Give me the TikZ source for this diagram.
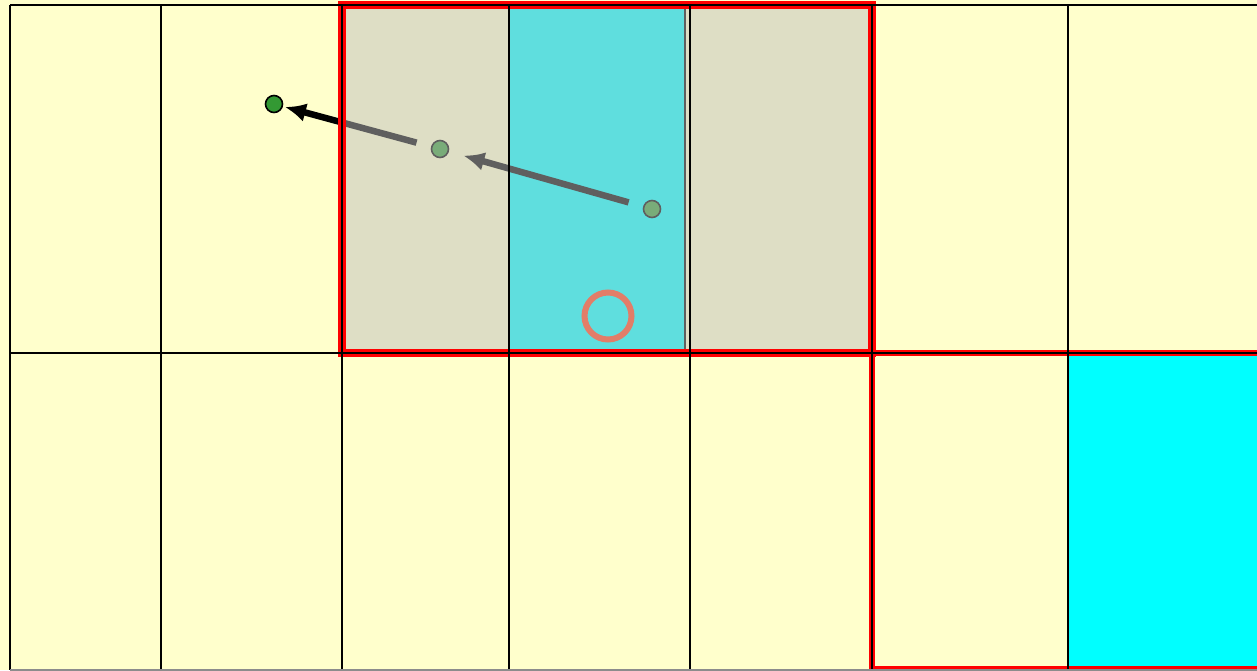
\documentclass[tikz,border=0pt]{standalone}
\usetikzlibrary{arrows.meta}
\definecolor{bgyellow}{HTML}{FFFFCC}
\definecolor{veil}{HTML}{BFBFBF}
\definecolor{dotgreen}{HTML}{339933}
\definecolor{ringcol}{HTML}{E27D68}
\definecolor{cellcyan}{HTML}{00FFFF}
\begin{document}
\begin{tikzpicture}[x=1pt,y=-1pt,
  gridline/.style={black,line width=2pt},
  dot/.style={circle,draw=black,fill=dotgreen,line width=1.6pt,minimum size=17pt,inner sep=0pt},
  move/.style={black,line width=6.5pt,-{Latex[length=21pt,width=19pt]}},
  region/.style={red,line width=8pt},
  ring/.style={circle,draw=ringcol,line width=6pt,minimum size=47pt,inner sep=0pt}
]
\useasboundingbox (0,0) rectangle (1257,670);
\fill[bgyellow] (0,0) rectangle (1257,670);
% coloured cells
\fill[cellcyan] (509,5) rectangle (685,353);
\draw[black,line width=1.5pt] (685,5) -- (685,353);
\fill[cellcyan] (1068,353) rectangle (1257,670);
% dots and moves
\node[dot] (p0) at (274,104) {};
\node[dot] (p1) at (440,149) {};
\node[dot] (p2) at (652,209) {};
\draw[move,shorten <=15pt,shorten >=15pt] (p2) -- (p1);
\draw[move,shorten <=15pt,shorten >=2pt] (p1) -- (p0);
% translucent veil
\fill[veil,opacity=0.5] (342,5) rectangle (872,353);
% red regions
\draw[region] (342,5) rectangle (872,353);
\draw[red,line width=6pt] (872,353) rectangle (1265,669);
% grid
\foreach \x in {10,161,342,509,690,872,1068}
  \draw[gridline] (\x,5) -- (\x,670);
\draw[gridline] (10,5) -- (1257,5);
\draw[gridline] (10,353) -- (1257,353);
\draw[black!45,line width=2pt] (10,670) -- (1257,670);
% ring
\node[ring] (r) at (608,316) {};
\end{tikzpicture}
\end{document}
